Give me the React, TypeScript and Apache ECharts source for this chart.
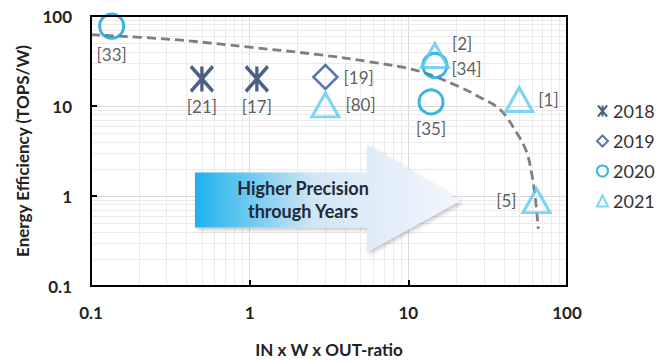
import React, { useEffect, useRef } from "react";
import * as echarts from "echarts";

const years = ["2018", "2019", "2020", "2021"];

const x2018 = [0.5, 1.11];
const y2018 = [20, 20];
const refs2018 = ["[21]", "[17]"];

const x2019 = [3.0];
const y2019 = [21];
const refs2019 = ["[19]"];

const x2020 = [0.135, 14.7, 13.9];
const y2020 = [77, 28.2, 11.1];
const refs2020 = ["[33]", "[34]", "[35]"];

const x2021 = [3.0, 14.7, 50, 64.3];
const y2021 = [10.3, 36.4, 11.8, 0.89];
const refs2021 = ["[80]", "[2]", "[1]", "[5]"];

const curveX = [0.1, 0.32, 1, 2.8, 5.7, 11.8, 21, 28, 38, 48, 55.6, 60, 63, 66];
const curveY = [62, 55, 45, 37, 31, 24.3, 16.3, 12.6, 9.1, 5.1, 3.1, 1.75, 0.98, 0.43];

const xTickLabels = ["0.1", "1", "10", "100"];
const yTickLabels = ["0.1", "1", "10", "100"];

const minorX = [0.2, 0.3, 0.4, 0.5, 0.6, 0.7, 0.8, 0.9, 2, 3, 4, 5, 6, 7, 8, 9, 20, 30, 40, 50, 60, 70, 80, 90];
const minorY = [0.2, 0.3, 0.4, 0.5, 0.6, 0.7, 0.8, 0.9, 2, 3, 4, 5, 6, 7, 8, 9, 20, 30, 40, 50, 60, 70, 80, 90];

const FONT = "Lato";
const TXT = "#333333";

const labelPos: Record<string, any> = {
  "[21]": { position: "bottom", distance: 5 },
  "[17]": { position: "bottom", distance: 5 },
  "[19]": { position: "right", distance: 5 },
  "[33]": { position: "bottom", distance: 6 },
  "[34]": { position: "right", distance: 3, offset: [0, 3] },
  "[35]": { position: "bottom", distance: 5 },
  "[80]": { position: "right", distance: 5 },
  "[2]": { position: "right", distance: 2, offset: [0, -12] },
  "[1]": { position: "right", distance: 4 },
  "[5]": { position: "left", distance: 5 },
};

function pts(xs: number[], ys: number[], refs: string[]) {
  return xs.map((x, i) => ({
    value: [x, ys[i]],
    name: refs[i],
    label: labelPos[refs[i]],
  }));
}

const STAR = "path://M0,0L20,24M20,0L0,24M10,0L10,24";

export default function App() {
  const ref = useRef<HTMLDivElement>(null);
  useEffect(() => {
    document.body.style.margin = "0";
    const chart = echarts.init(ref.current!, undefined, { renderer: "svg" });
    const label = {
      show: true,
      formatter: "{b}",
      color: TXT,
      fontSize: 17,
      fontFamily: FONT,
    };
    const hollow = "rgba(255,255,255,0)";
    chart.setOption({
      animation: false,
      textStyle: { fontFamily: FONT },
      grid: {
        left: 91,
        top: 16,
        width: 476,
        height: 280,
        show: true,
        borderColor: "#000",
        borderWidth: 2,
        z: 10,
      },
      legend: {
        data: years,
        orient: "vertical",
        left: 596,
        top: 102,
        padding: 0,
        itemWidth: 11,
        itemHeight: 11,
        itemGap: 12,
        textStyle: { fontSize: 18, color: TXT, fontFamily: FONT, lineHeight: 18 },
      },
      xAxis: {
        type: "log",
        logBase: 10,
        min: 0.1,
        max: 100,
        name: "IN x W x OUT-ratio",
        nameLocation: "middle",
        nameGap: 55,
        nameTextStyle: { fontSize: 17, fontWeight: "bold", color: "#222", fontFamily: FONT },
        axisLine: { show: true, lineStyle: { color: "#000", width: 2 } },
        axisTick: { show: true, inside: true, length: 6, lineStyle: { color: "#000", width: 2 } },
        axisLabel: {
          margin: 18,
          fontSize: 17,
          fontWeight: "bold",
          color: "#222",
          fontFamily: FONT,
          formatter: (v: number) => xTickLabels[Math.round(Math.log10(v)) + 1] ?? "",
        },
        splitLine: { show: true, lineStyle: { color: "#d9d9d9", width: 1 } },
      },
      yAxis: {
        type: "log",
        logBase: 10,
        min: 0.1,
        max: 100,
        name: "Energy Efficiency (TOPS/W)",
        nameLocation: "middle",
        nameGap: 60,
        nameTextStyle: { fontSize: 17, fontWeight: "bold", color: "#222", fontFamily: FONT },
        axisLine: { show: true, lineStyle: { color: "#000", width: 2 } },
        axisTick: { show: true, inside: true, length: 6, lineStyle: { color: "#000", width: 2 } },
        axisLabel: {
          margin: 19,
          fontSize: 17,
          fontWeight: "bold",
          color: "#222",
          fontFamily: FONT,
          formatter: (v: number) => yTickLabels[Math.round(Math.log10(v)) + 1] ?? "",
        },
        splitLine: { show: true, lineStyle: { color: "#d9d9d9", width: 1 } },
      },
      series: [
        {
          name: "minorGrid",
          type: "line",
          data: [],
          silent: true,
          z: 0,
          markLine: {
            silent: true,
            symbol: "none",
            z: 0,
            label: { show: false },
            lineStyle: { color: "#ebebeb", width: 1, type: "solid" },
            data: [
              ...minorX.map((v) => ({ xAxis: v })),
              ...minorY.map((v) => ({ yAxis: v })),
            ],
          },
        },
        {
          name: "trend",
          type: "line",
          data: curveX.map((x, i) => [x, curveY[i]]),
          symbol: "none",
          smooth: 0.35,
          silent: true,
          z: 3,
          lineStyle: { color: "#7f7f7f", width: 2.8, type: [9, 5] },
        },
        {
          name: "2018",
          type: "scatter",
          symbol: STAR,
          symbolSize: [22, 25],
          itemStyle: { color: hollow, borderColor: "#1f3864", borderWidth: 3.5 },
          label,
          data: pts(x2018, y2018, refs2018),
          z: 5,
        },
        {
          name: "2019",
          type: "scatter",
          symbol: "diamond",
          symbolSize: 24,
          itemStyle: { color: hollow, borderColor: "#2f5597", borderWidth: 2.5 },
          label,
          data: pts(x2019, y2019, refs2019),
          z: 5,
        },
        {
          name: "2020",
          type: "scatter",
          symbol: "circle",
          symbolSize: 24,
          itemStyle: { color: hollow, borderColor: "#109fdc", borderWidth: 3 },
          label,
          data: pts(x2020, y2020, refs2020),
          z: 5,
        },
        {
          name: "2021",
          type: "scatter",
          symbol: "triangle",
          symbolSize: [27, 24],
          itemStyle: { color: hollow, borderColor: "#5ccaf3", borderWidth: 3 },
          label,
          data: pts(x2021, y2021, refs2021),
          z: 5,
        },
      ],
      graphic: [
        {
          type: "polygon",
          z: 100,
          shape: {
            points: [
              [195, 172.5],
              [367, 172.5],
              [367, 145],
              [460, 201],
              [367, 252],
              [367, 227.5],
              [195, 227.5],
            ],
          },
          style: {
            fill: new echarts.graphic.LinearGradient(0, 0, 1, 0, [
              { offset: 0, color: "#1db3ec" },
              { offset: 0.25, color: "#7fcff0" },
              { offset: 0.45, color: "#d3e6f5" },
              { offset: 1, color: "#f2f6fc" },
            ]),
            shadowBlur: 4,
            shadowOffsetX: 2,
            shadowOffsetY: 2,
            shadowColor: "rgba(0,0,0,0.25)",
          },
        },
        {
          type: "text",
          z: 101,
          x: 303,
          y: 199,
          style: {
            text: "Higher Precision\nthrough Years",
            fill: "#1f2a3a",
            font: `bold 18px ${FONT}`,
            lineHeight: 23,
            align: "center",
            verticalAlign: "middle",
          },
        },
      ],
    });
    return () => chart.dispose();
  }, []);
  return <div ref={ref} style={{ width: 669, height: 363 }} />;
}
